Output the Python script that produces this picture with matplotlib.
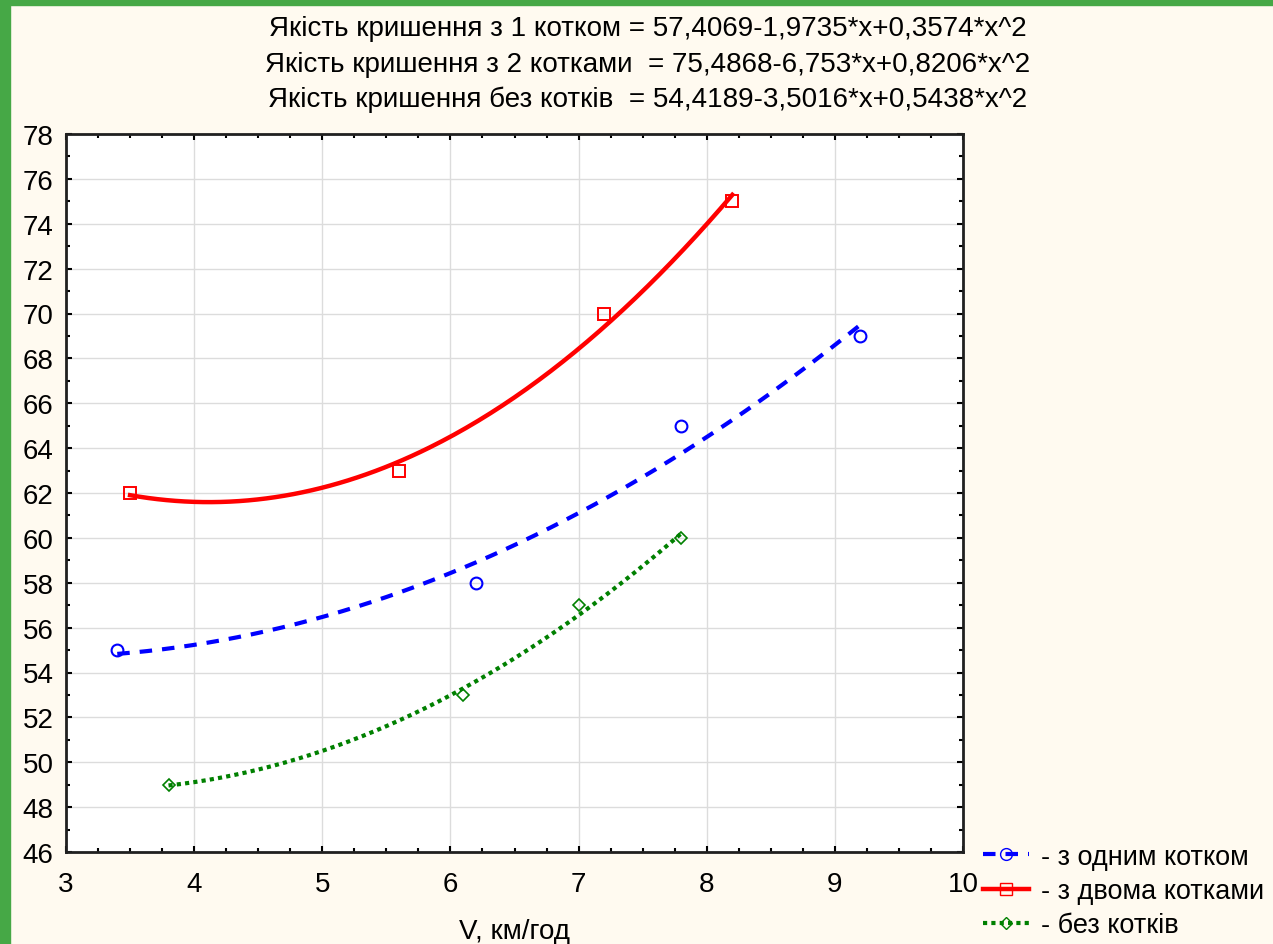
import numpy as np
import matplotlib
matplotlib.use("Agg")
import matplotlib.pyplot as plt
from matplotlib.patches import Rectangle
from matplotlib.ticker import MultipleLocator

plt.rcParams['font.family'] = ['Liberation Sans', 'DejaVu Sans']

# Data
x_one = [3.4, 6.2, 7.8, 9.2]
y_one = [55, 58, 65, 69]
x_two = [3.5, 5.6, 7.2, 8.2]
y_two = [62, 63, 70, 75]
x_none = [3.8, 6.1, 7.0, 7.8]
y_none = [49, 53, 57, 60]

# Fit coefficients stated in the chart title (highest power first)
coef_one = [0.3574, -1.9735, 57.4069]
coef_two = [0.8206, -6.753, 75.4868]
coef_none = [0.5438, -3.5016, 54.4189]

title_lines = [
    "Якість кришення з 1 котком = 57,4069-1,9735*x+0,3574*x^2",
    "Якість кришення з 2 котками  = 75,4868-6,753*x+0,8206*x^2",
    "Якість кришення без котків  = 54,4189-3,5016*x+0,5438*x^2",
]
labels = ["- з одним котком", "- з двома котками", "- без котків"]

fig = plt.figure(figsize=(12.73, 9.45), dpi=100)
fig.patch.set_facecolor('#FFFAF0')
# green frame
fig.patches.append(Rectangle((0, 0), 10/1273, 1, transform=fig.transFigure, color='#46A846', zorder=0))
fig.patches.append(Rectangle((0, 1-6/945), 1, 6/945, transform=fig.transFigure, color='#46A846', zorder=0))

ax = fig.add_axes([66/1273, 1-853/945, (963-66)/1273, (853-135)/945])
ax.set_facecolor('white')

def curve(xs, coef):
    xx = np.linspace(min(xs), max(xs), 200)
    return xx, np.polyval(coef, xx)

blue_ls = (0, (3, 2.4))
green_ls = (0, (1, 1))
xx, yy = curve(x_one, coef_one)
ax.plot(xx, yy, color='#0000FF', lw=3, ls=blue_ls)
xx, yy = curve(x_two, coef_two)
ax.plot(xx, yy, color='#FF0000', lw=3.2, ls='-')
xx, yy = curve(x_none, coef_none)
ax.plot(xx, yy, color='#008000', lw=3, ls=green_ls)

ax.plot(x_one, y_one, 'o', mfc='none', mec='#0000FF', ms=8.5, mew=1.5)
ax.plot(x_two, y_two, 's', mfc='none', mec='#FF0000', ms=9, mew=1.4)
ax.plot(x_none, y_none, 'D', mfc='none', mec='#008000', ms=6, mew=1.2)

ax.set_xlim(3, 10)
ax.set_ylim(46, 78)
ax.xaxis.set_major_locator(MultipleLocator(1))
ax.xaxis.set_minor_locator(MultipleLocator(0.25))
ax.yaxis.set_major_locator(MultipleLocator(2))
ax.yaxis.set_minor_locator(MultipleLocator(1))
ax.grid(True, which='major', color='#DCDCDC', lw=1)
ax.set_axisbelow(True)
ax.tick_params(which='both', direction='in', top=True, right=True, labelsize=20, colors='black')
ax.tick_params(which='major', length=4, width=1.5)
ax.tick_params(which='minor', length=3, width=1.5)
ax.tick_params(axis='y', which='major', pad=9)
ax.tick_params(axis='x', which='major', pad=14)
for s in ax.spines.values():
    s.set_linewidth(2)
    s.set_color('#202020')

ax.set_xlabel("V, км/год", fontsize=20, labelpad=15)

for i, t in enumerate(title_lines):
    fig.text(648/1273, 1-(29+35.5*i)/945, t, ha='center', va='center', fontsize=20)

# legend handles with markers
h1, = ax.plot([], [], color='#0000FF', lw=3, ls=blue_ls, marker='o', mfc='none', mec='#0000FF', ms=8.5)
h2, = ax.plot([], [], color='#FF0000', lw=3.2, marker='s', mfc='none', mec='#FF0000', ms=9)
h3, = ax.plot([], [], color='#008000', lw=3, ls=green_ls, marker='D', mfc='none', mec='#008000', ms=6)
fig.legend([h1, h2, h3], labels, loc='center left', bbox_to_anchor=(983/1273, 1-892/945),
           frameon=False, fontsize=19.5, handlelength=1.7, handletextpad=0.45, labelspacing=0.3,
           borderaxespad=0, borderpad=0)

fig.savefig("out.png", dpi=100, facecolor=fig.get_facecolor())
